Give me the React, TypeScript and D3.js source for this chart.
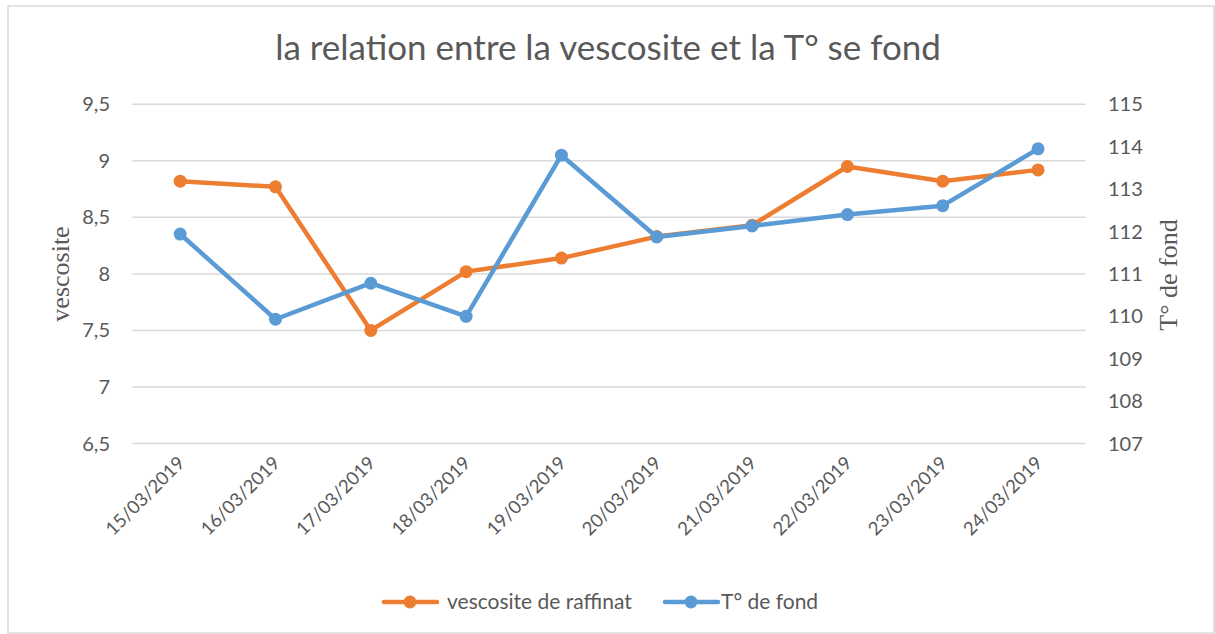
import React, { useEffect, useRef } from "react";
import * as d3 from "d3";

// chart data
const dates = [
  "15/03/2019", "16/03/2019", "17/03/2019", "18/03/2019", "19/03/2019",
  "20/03/2019", "21/03/2019", "22/03/2019", "23/03/2019", "24/03/2019",
];
const viscosity = [8.82, 8.77, 7.5, 8.02, 8.14, 8.33, 8.43, 8.95, 8.82, 8.92];
const bottomTemp = [111.94, 109.93, 110.78, 110.0, 113.8, 111.87, 112.13, 112.4, 112.61, 113.95];
const leftTicks = [6.5, 7, 7.5, 8, 8.5, 9, 9.5];
const rightTicks = [107, 108, 109, 110, 111, 112, 113, 114, 115];

const ORANGE = "#ED7D31";
const BLUE = "#5B9BD5";
const TEXT = "#595959";
const SANS = "Lato, 'Open Sans', sans-serif";
const SERIF = "'Liberation Serif', 'DejaVu Serif', serif";

const App = () => {
  const ref = useRef<SVGSVGElement | null>(null);

  useEffect(() => {
    const width = 1215;
    const height = 634;
    const plot = { left: 132.5, right: 1085.7, top: 104.3, bottom: 443.5 };

    const svg = d3.select(ref.current);
    svg.selectAll("*").remove();

    svg.append("rect")
      .attr("width", width)
      .attr("height", height)
      .attr("fill", "#fff");

    // outer frame
    svg.append("rect")
      .attr("x", 8)
      .attr("y", 6)
      .attr("width", 1206)
      .attr("height", 627)
      .attr("fill", "none")
      .attr("stroke", "#D9D9D9")
      .attr("stroke-width", 1.5);

    const x = d3.scaleBand()
      .domain(dates)
      .range([plot.left, plot.right]);
    const cx = (d: string) => (x(d) as number) + x.bandwidth() / 2;

    const yLeft = d3.scaleLinear().domain([6.5, 9.5]).range([plot.bottom, plot.top]);
    const yRight = d3.scaleLinear().domain([107, 115]).range([plot.bottom, plot.top]);

    // gridlines
    svg.append("g")
      .selectAll("line")
      .data(leftTicks)
      .enter()
      .append("line")
      .attr("x1", plot.left)
      .attr("x2", plot.right)
      .attr("y1", d => yLeft(d))
      .attr("y2", d => yLeft(d))
      .attr("stroke", "#D9D9D9")
      .attr("stroke-width", 1.5);

    // left tick labels
    svg.append("g")
      .selectAll("text")
      .data(leftTicks)
      .enter()
      .append("text")
      .attr("x", 110)
      .attr("y", d => yLeft(d))
      .attr("dy", "0.35em")
      .attr("text-anchor", "end")
      .style("font-family", SANS)
      .style("font-size", "20px")
      .style("fill", TEXT)
      .text(d => String(d).replace(".", ","));

    // right tick labels
    svg.append("g")
      .selectAll("text")
      .data(rightTicks)
      .enter()
      .append("text")
      .attr("x", 1108)
      .attr("y", d => yRight(d))
      .attr("dy", "0.35em")
      .attr("text-anchor", "start")
      .style("font-family", SANS)
      .style("font-size", "20px")
      .style("fill", TEXT)
      .text(d => d);

    // x tick labels, rotated
    svg.append("g")
      .selectAll("text")
      .data(dates)
      .enter()
      .append("text")
      .attr("transform", d => `translate(${cx(d) + 1}, ${plot.bottom + 16}) rotate(-45)`)
      .attr("text-anchor", "end")
      .attr("dy", "0.35em")
      .style("font-family", SANS)
      .style("font-size", "18.5px")
      .style("fill", TEXT)
      .text(d => d);

    // axis titles (both read bottom to top)
    svg.append("text")
      .attr("transform", `translate(69, 274) rotate(-90)`)
      .attr("text-anchor", "middle")
      .style("font-family", SERIF)
      .style("font-size", "26px")
      .style("fill", TEXT)
      .text("vescosite");

    svg.append("text")
      .attr("transform", `translate(1177, 275) rotate(-90)`)
      .attr("text-anchor", "middle")
      .style("font-family", SERIF)
      .style("font-size", "26px")
      .style("fill", TEXT)
      .text("T° de fond");

    // title
    svg.append("text")
      .attr("x", 608)
      .attr("y", 60)
      .attr("text-anchor", "middle")
      .style("font-family", SANS)
      .style("font-size", "35px")
      .style("fill", TEXT)
      .text("la relation entre la vescosite et la T° se fond");

    // series
    const drawSeries = (values: number[], y: d3.ScaleLinear<number, number>, color: string) => {
      const line = d3.line<number>()
        .x((_, i) => cx(dates[i]))
        .y(v => y(v));
      svg.append("path")
        .datum(values)
        .attr("d", line)
        .attr("fill", "none")
        .attr("stroke", color)
        .attr("stroke-width", 4.5)
        .attr("stroke-linejoin", "round")
        .attr("stroke-linecap", "round");
      svg.append("g")
        .selectAll("circle")
        .data(values)
        .enter()
        .append("circle")
        .attr("cx", (_, i) => cx(dates[i]))
        .attr("cy", v => y(v))
        .attr("r", 6.5)
        .attr("fill", color);
    };
    drawSeries(viscosity, yLeft, ORANGE);
    drawSeries(bottomTemp, yRight, BLUE);

    // legend
    const legend = [
      { label: "vescosite de raffinat", color: ORANGE, x: 384, tx: 447 },
      { label: "T° de fond", color: BLUE, x: 665, tx: 721 },
    ];
    const lg = svg.append("g");
    legend.forEach(item => {
      lg.append("line")
        .attr("x1", item.x)
        .attr("x2", item.x + 53)
        .attr("y1", 602)
        .attr("y2", 602)
        .attr("stroke", item.color)
        .attr("stroke-width", 4.5)
        .attr("stroke-linecap", "round");
      lg.append("circle")
        .attr("cx", item.x + 26)
        .attr("cy", 602)
        .attr("r", 6.5)
        .attr("fill", item.color);
      lg.append("text")
        .attr("x", item.tx)
        .attr("y", 602)
        .attr("dy", "0.35em")
        .style("font-family", SANS)
        .style("font-size", "21px")
        .style("fill", TEXT)
        .text(item.label);
    });
  }, []);

  return (
    <svg
      ref={ref}
      width={1215}
      height={634}
      style={{ position: "absolute", left: 0, top: 0 }}
    />
  );
};

export default App;
